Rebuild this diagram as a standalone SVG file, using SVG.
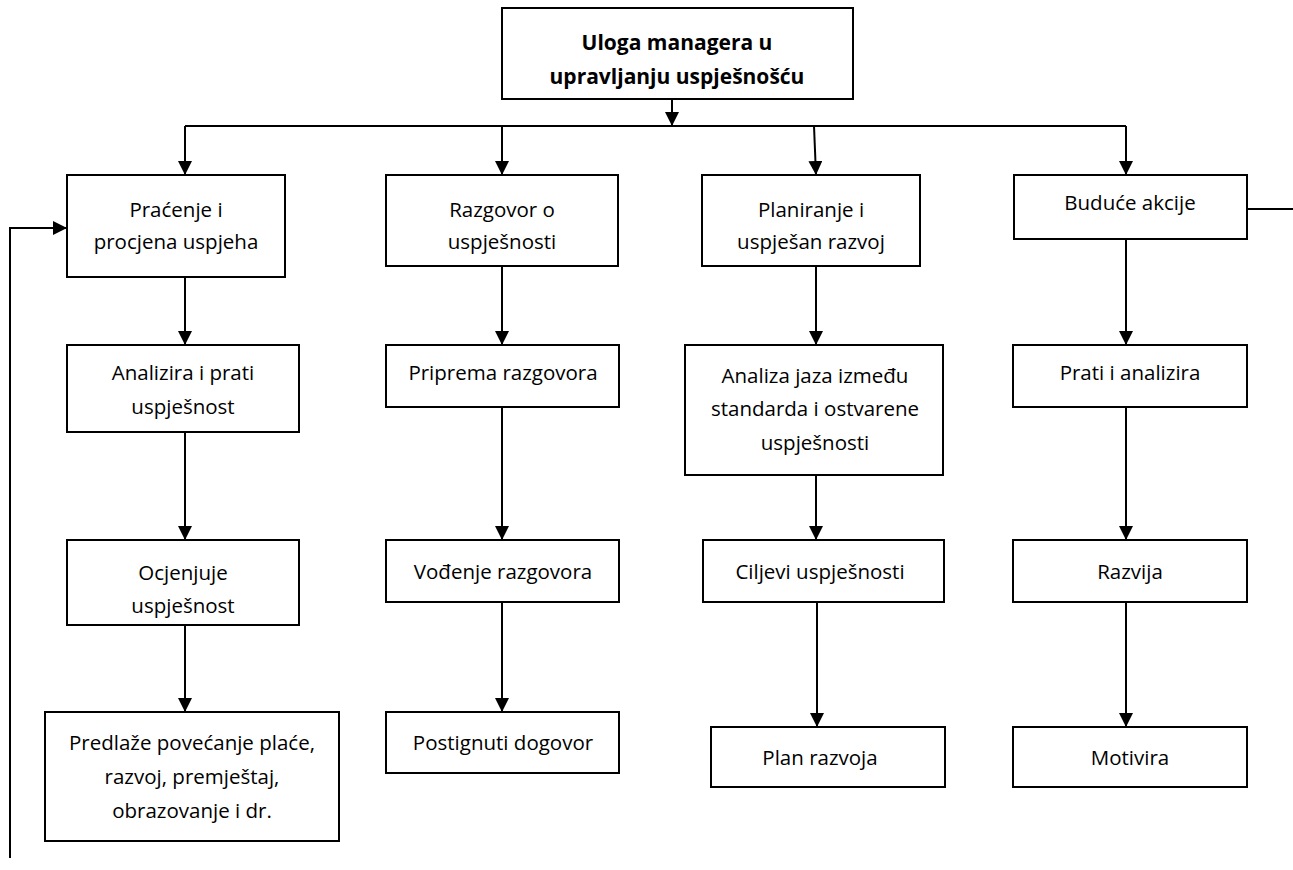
<svg xmlns="http://www.w3.org/2000/svg" width="1293" height="870" viewBox="0 0 1293 870">
<style>
.box{fill:#fff;stroke:#000;stroke-width:2}
.t{font-family:"Open Sans","Noto Sans",sans-serif;font-size:20.5px;fill:#000;text-anchor:middle;dominant-baseline:central}
.tb{font-family:"Open Sans","Noto Sans",sans-serif;font-size:21px;font-weight:bold;fill:#000;text-anchor:middle;dominant-baseline:central}
.c{fill:none;stroke:#000;stroke-width:2}
</style>
<defs>
<marker id="ah" markerUnits="userSpaceOnUse" markerWidth="14" markerHeight="14" refX="14" refY="7" orient="auto">
<path d="M0,0 L14,7 L0,14 z" fill="#000"/>
</marker>
</defs>
<rect width="1293" height="870" fill="#fff"/>
<g id="connectors">
<line class="c" x1="672" y1="99" x2="672" y2="126" marker-end="url(#ah)"/>
<line class="c" x1="185" y1="126" x2="1126" y2="126"/>
<line class="c" x1="185" y1="126" x2="185" y2="175" marker-end="url(#ah)"/>
<line class="c" x1="502" y1="126" x2="502" y2="175" marker-end="url(#ah)"/>
<line class="c" x1="814" y1="126" x2="816" y2="175" marker-end="url(#ah)"/>
<line class="c" x1="1126" y1="126" x2="1126" y2="175" marker-end="url(#ah)"/>
<line class="c" x1="1247" y1="209" x2="1293" y2="209"/>
<polyline class="c" points="10,858 10,228 67,228" marker-end="url(#ah)"/>
<line class="c" x1="185" y1="277" x2="185" y2="345" marker-end="url(#ah)"/>
<line class="c" x1="502" y1="266" x2="502" y2="345" marker-end="url(#ah)"/>
<line class="c" x1="816" y1="266" x2="816" y2="345" marker-end="url(#ah)"/>
<line class="c" x1="1126" y1="239" x2="1126" y2="345" marker-end="url(#ah)"/>
<line class="c" x1="185" y1="432" x2="185" y2="540" marker-end="url(#ah)"/>
<line class="c" x1="502" y1="407" x2="502" y2="540" marker-end="url(#ah)"/>
<line class="c" x1="816" y1="475" x2="816" y2="540" marker-end="url(#ah)"/>
<line class="c" x1="1126" y1="407" x2="1126" y2="540" marker-end="url(#ah)"/>
<line class="c" x1="185" y1="625" x2="185" y2="712" marker-end="url(#ah)"/>
<line class="c" x1="502" y1="602" x2="502" y2="712" marker-end="url(#ah)"/>
<line class="c" x1="817" y1="602" x2="817" y2="727" marker-end="url(#ah)"/>
<line class="c" x1="1126" y1="602" x2="1126" y2="727" marker-end="url(#ah)"/>
</g>
<g id="n-top">
<rect class="box" x="502" y="8" width="351" height="91"/>
<text class="tb" x="677" y="42">Uloga managera u</text>
<text class="tb" x="677" y="76">upravljanju uspješnošću</text>
</g>
<g id="n-pracenje">
<rect class="box" x="67" y="175" width="218" height="102"/>
<text class="t" x="176" y="209">Praćenje i</text>
<text class="t" x="176" y="241">procjena uspjeha</text>
</g>
<g id="n-razgovor">
<rect class="box" x="386" y="175" width="232" height="91"/>
<text class="t" x="502" y="209">Razgovor o</text>
<text class="t" x="502" y="241">uspješnosti</text>
</g>
<g id="n-planiranje">
<rect class="box" x="702" y="175" width="218" height="91"/>
<text class="t" x="811" y="209">Planiranje i</text>
<text class="t" x="811" y="241">uspješan razvoj</text>
</g>
<g id="n-buduce">
<rect class="box" x="1014" y="175" width="233" height="64"/>
<text class="t" x="1130" y="202">Buduće akcije</text>
</g>
<g id="n-analizira">
<rect class="box" x="67" y="345" width="232" height="87"/>
<text class="t" x="183" y="372">Analizira i prati</text>
<text class="t" x="183" y="406">uspješnost</text>
</g>
<g id="n-priprema">
<rect class="box" x="386" y="345" width="233" height="62"/>
<text class="t" x="503" y="372">Priprema razgovora</text>
</g>
<g id="n-analiza">
<rect class="box" x="685" y="345" width="258" height="130"/>
<text class="t" x="815" y="375">Analiza jaza između</text>
<text class="t" x="815" y="408">standarda i ostvarene</text>
<text class="t" x="815" y="442">uspješnosti</text>
</g>
<g id="n-prati">
<rect class="box" x="1013" y="345" width="234" height="62"/>
<text class="t" x="1130" y="372">Prati i analizira</text>
</g>
<g id="n-ocjenjuje">
<rect class="box" x="67" y="540" width="232" height="85"/>
<text class="t" x="183" y="572">Ocjenjuje</text>
<text class="t" x="183" y="605">uspješnost</text>
</g>
<g id="n-vodenje">
<rect class="box" x="386" y="540" width="233" height="62"/>
<text class="t" x="503" y="571">Vođenje razgovora</text>
</g>
<g id="n-ciljevi">
<rect class="box" x="703" y="540" width="241" height="62"/>
<text class="t" x="820" y="571">Ciljevi uspješnosti</text>
</g>
<g id="n-razvija">
<rect class="box" x="1013" y="540" width="234" height="62"/>
<text class="t" x="1130" y="571">Razvija</text>
</g>
<g id="n-predlaze">
<rect class="box" x="45" y="712" width="294" height="129"/>
<text class="t" x="192" y="742">Predlaže povećanje plaće,</text>
<text class="t" x="192" y="776">razvoj, premještaj,</text>
<text class="t" x="192" y="810">obrazovanje i dr.</text>
</g>
<g id="n-postignuti">
<rect class="box" x="386" y="712" width="233" height="61"/>
<text class="t" x="503" y="742">Postignuti dogovor</text>
</g>
<g id="n-plan">
<rect class="box" x="711" y="727" width="234" height="60"/>
<text class="t" x="820" y="757">Plan razvoja</text>
</g>
<g id="n-motivira">
<rect class="box" x="1013" y="727" width="234" height="60"/>
<text class="t" x="1130" y="757">Motivira</text>
</g>
</svg>
